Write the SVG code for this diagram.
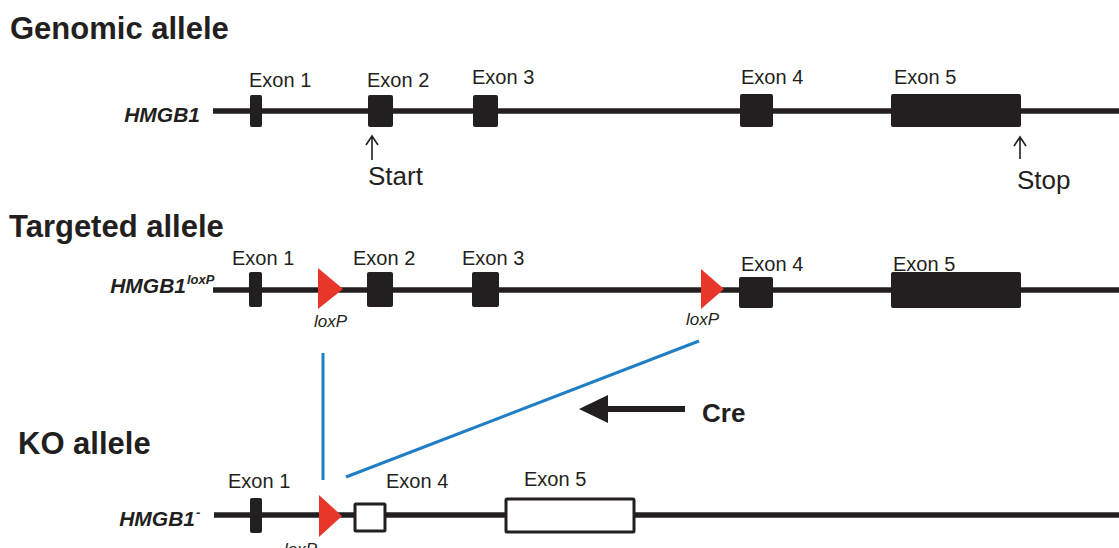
<svg xmlns="http://www.w3.org/2000/svg" width="1119" height="548" viewBox="0 0 1119 548">
<style>
text{font-family:"Liberation Sans",Arial,sans-serif;fill:#231f20}
.title{font-size:31px;font-weight:bold}
.ex{font-size:20px}
.gene{font-size:21px;font-weight:bold;font-style:italic}
.sup{font-size:13px;font-weight:bold;font-style:italic}
.lox{font-size:17px;font-style:italic}
.big{font-size:26px}
.dna{stroke:#231f20;stroke-width:5.5;fill:none}
.box{fill:#231f20}
.obox{fill:#fff;stroke:#231f20;stroke-width:3}
.tri{fill:#e8362a}
.blue{stroke:#1f7ec4;stroke-width:3;fill:none}
.thin{stroke:#231f20;stroke-width:1.6;fill:none}
</style>
<g id="genomic">
<text class="title" x="10" y="39">Genomic allele</text>
<text class="gene" x="200" y="122" text-anchor="end">HMGB1</text>
<line class="dna" x1="213" y1="111" x2="1119" y2="111"/>
<rect class="box" x="250" y="95" width="12" height="32" rx="2"/>
<rect class="box" x="368" y="95" width="25" height="32" rx="2"/>
<rect class="box" x="473" y="95" width="25" height="32" rx="2"/>
<rect class="box" x="740" y="94" width="33" height="33" rx="2"/>
<rect class="box" x="891" y="94" width="130" height="33" rx="2"/>
<text class="ex" x="249" y="87">Exon 1</text>
<text class="ex" x="367" y="87">Exon 2</text>
<text class="ex" x="472" y="84">Exon 3</text>
<text class="ex" x="741" y="84">Exon 4</text>
<text class="ex" x="894" y="84">Exon 5</text>
<path class="thin" d="M372 160V136M366 145L372 136L378 145"/>
<text class="big" x="368" y="185">Start</text>
<path class="thin" d="M1020 159V137M1014 146L1020 137L1026 146"/>
<text class="big" x="1017" y="189">Stop</text>
</g>
<g id="targeted">
<text class="title" x="9" y="237">Targeted allele</text>
<text class="gene" x="186" y="293" text-anchor="end">HMGB1</text>
<text class="sup" x="187" y="284">loxP</text>
<line class="dna" x1="213" y1="290" x2="1119" y2="290"/>
<rect class="box" x="249" y="272" width="13" height="35" rx="2"/>
<rect class="box" x="367" y="272" width="26" height="35" rx="2"/>
<rect class="box" x="472" y="272" width="27" height="35" rx="2"/>
<rect class="box" x="739" y="277" width="34" height="31" rx="2"/>
<rect class="box" x="891" y="272" width="130" height="36" rx="2"/>
<polygon class="tri" points="318,268 343,289 318,309"/>
<polygon class="tri" points="701,269 724,289 701,309"/>
<text class="ex" x="232" y="265">Exon 1</text>
<text class="ex" x="353" y="265">Exon 2</text>
<text class="ex" x="462" y="265">Exon 3</text>
<text class="ex" x="741" y="271">Exon 4</text>
<text class="ex" x="893" y="271">Exon 5</text>
<text class="lox" x="314" y="327">loxP</text>
<text class="lox" x="686" y="325">loxP</text>
</g>
<g id="ko">
<text class="title" x="18" y="454">KO allele</text>
<text class="gene" x="195" y="526" text-anchor="end">HMGB1</text>
<text class="sup" x="196" y="517">-</text>
<line class="dna" x1="214" y1="515" x2="1119" y2="515"/>
<rect class="box" x="250" y="498" width="12" height="35" rx="2"/>
<polygon class="tri" points="319,495 342,516 319,537"/>
<rect class="obox" x="355" y="504" width="30" height="27" rx="1"/>
<rect class="obox" x="506" y="499" width="128" height="33" rx="1"/>
<text class="ex" x="228" y="488">Exon 1</text>
<text class="ex" x="386" y="488">Exon 4</text>
<text class="ex" x="524" y="486">Exon 5</text>
<text class="lox" x="284" y="555">loxP</text>
</g>
<g id="connectors">
<line class="blue" x1="323" y1="353" x2="323" y2="480"/>
<line class="blue" x1="699" y1="341" x2="346" y2="477"/>
</g>
<g id="cre">
<line x1="604" y1="409" x2="685" y2="409" stroke="#231f20" stroke-width="6"/>
<polygon points="579,409 608,395 608,423" fill="#231f20"/>
<text x="702" y="422" style="font-size:26px;font-weight:bold">Cre</text>
</g>
</svg>
